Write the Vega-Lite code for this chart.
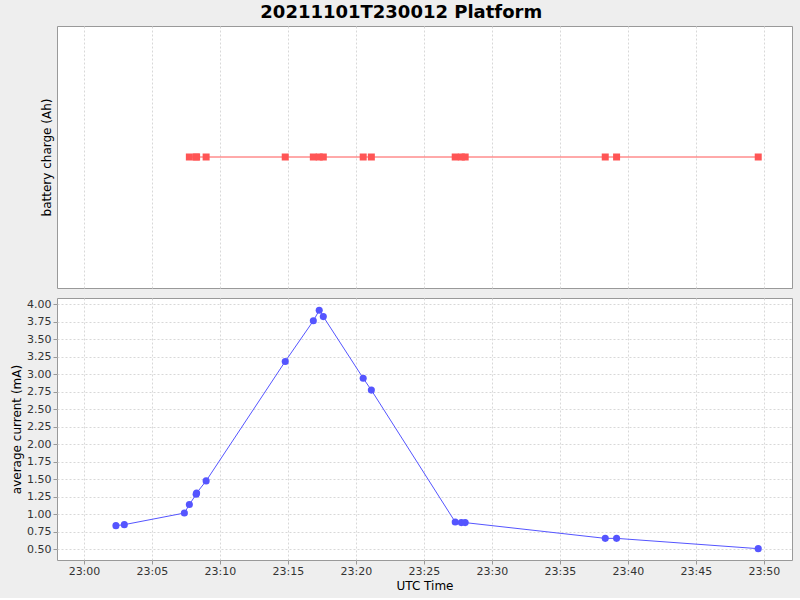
{
  "$schema": "https://vega.github.io/schema/vega-lite/v6.json",
  "description": "Platform battery charge and average current over time",
  "background": "#eeeeee",
  "padding": {"left": 10, "top": 3, "right": 8, "bottom": 6},
  "title": {"text": "20211101T230012 Platform", "fontSize": 18, "fontWeight": "bold", "color": "#000000", "anchor": "middle", "offset": 4},
  "data": {
    "values": [
      {"time": "2021-11-01T23:02:21Z", "current": 0.834, "charge": null},
      {"time": "2021-11-01T23:02:58Z", "current": 0.848, "charge": null},
      {"time": "2021-11-01T23:07:23Z", "current": 1.014, "charge": null},
      {"time": "2021-11-01T23:07:45Z", "current": 1.135, "charge": 0},
      {"time": "2021-11-01T23:08:15Z", "current": 1.282, "charge": 0},
      {"time": "2021-11-01T23:08:17Z", "current": 1.3, "charge": 0},
      {"time": "2021-11-01T23:08:59Z", "current": 1.473, "charge": 0},
      {"time": "2021-11-01T23:14:48Z", "current": 3.18, "charge": 0},
      {"time": "2021-11-01T23:16:52Z", "current": 3.76, "charge": 0},
      {"time": "2021-11-01T23:17:18Z", "current": 3.91, "charge": 0},
      {"time": "2021-11-01T23:17:36Z", "current": 3.82, "charge": 0},
      {"time": "2021-11-01T23:20:32Z", "current": 2.94, "charge": 0},
      {"time": "2021-11-01T23:21:08Z", "current": 2.77, "charge": 0},
      {"time": "2021-11-01T23:27:18Z", "current": 0.886, "charge": 0},
      {"time": "2021-11-01T23:27:45Z", "current": 0.877, "charge": 0},
      {"time": "2021-11-01T23:28:02Z", "current": 0.877, "charge": 0},
      {"time": "2021-11-01T23:38:20Z", "current": 0.652, "charge": 0},
      {"time": "2021-11-01T23:39:10Z", "current": 0.652, "charge": 0},
      {"time": "2021-11-01T23:49:35Z", "current": 0.505, "charge": 0}
    ]
  },
  "spacing": 8,
  "vconcat": [
    {
      "width": 735,
      "height": 262,
      "transform": [{"filter": "isValid(datum.charge)"}],
      "mark": {"type": "line", "color": "#ff5555", "strokeWidth": 1, "point": {"shape": "square", "filled": true, "size": 49, "color": "#ff5555", "opacity": 1}},
      "encoding": {
        "x": {
          "field": "time", "type": "temporal",
          "scale": {"type": "utc", "domain": ["2021-11-01T22:58:01Z", "2021-11-01T23:52:04Z"]},
          "axis": {"title": null, "labels": false, "ticks": false, "domain": false, "grid": true}
        },
        "y": {
          "field": "charge", "type": "quantitative",
          "scale": {"domain": [-1, 1], "nice": false},
          "axis": {"title": "battery charge (Ah)", "labels": false, "ticks": false, "domain": false, "grid": false, "titlePadding": 4}
        }
      }
    },
    {
      "width": 735,
      "height": 262,
      "mark": {"type": "line", "color": "#5555ff", "strokeWidth": 1, "point": {"filled": true, "size": 50, "color": "#5555ff", "opacity": 1}},
      "encoding": {
        "x": {
          "field": "time", "type": "temporal",
          "scale": {"type": "utc", "domain": ["2021-11-01T22:58:01Z", "2021-11-01T23:52:04Z"]},
          "axis": {"title": "UTC Time", "format": "%H:%M", "labelFlush": false, "labelPadding": 1, "titlePadding": 4}
        },
        "y": {
          "field": "current", "type": "quantitative",
          "scale": {"domain": [0.343, 4.086], "nice": false, "zero": false},
          "axis": {"title": "average current (mA)", "format": ".2f", "values": [0.5, 0.75, 1, 1.25, 1.5, 1.75, 2, 2.25, 2.5, 2.75, 3, 3.25, 3.5, 3.75, 4], "titlePadding": 3}
        }
      }
    }
  ],
  "config": {
    "font": "DejaVu Sans",
    "view": {"fill": "#ffffff", "stroke": "#999999", "strokeWidth": 1},
    "axis": {
      "domain": false,
      "grid": true,
      "gridColor": "#d8d8d8",
      "gridDash": [2, 2],
      "gridWidth": 1,
      "tickColor": "#999999",
      "tickSize": 4,
      "labelPadding": 2,
      "labelFontSize": 11,
      "labelColor": "#333333",
      "titleFontSize": 12,
      "titleFontWeight": "normal",
      "titleColor": "#000000"
    }
  }
}
